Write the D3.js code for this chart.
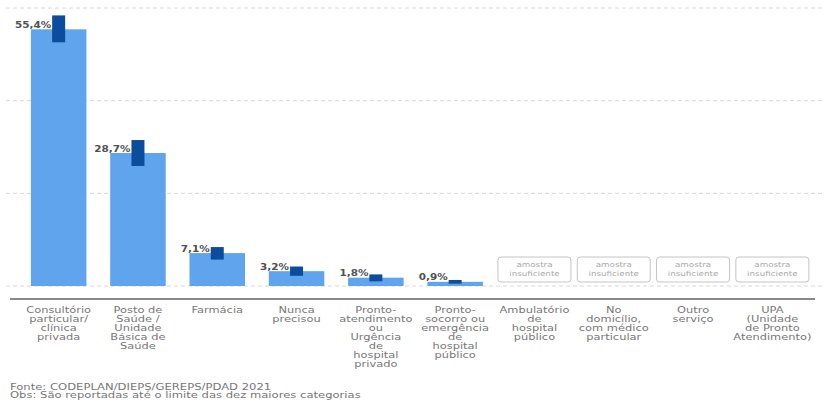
<!DOCTYPE html>
<html><head><meta charset="utf-8">
<script src="https://cdn.jsdelivr.net/npm/d3@7"></script>
<style>body{margin:0;background:#fff}svg{display:block}</style>
</head><body>
<svg id="c" width="824" height="403"></svg>
<script>
const categories = [
  ["Consultório","particular/","clínica","privada"],
  ["Posto de","Saúde /","Unidade","Básica de","Saúde"],
  ["Farmácia"],
  ["Nunca","precisou"],
  ["Pronto-","atendimento","ou","Urgência","de","hospital","privado"],
  ["Pronto-","socorro ou","emergência","de","hospital","público"],
  ["Ambulatório","de","hospital","público"],
  ["No","domicílio,","com médico","particular"],
  ["Outro","serviço"],
  ["UPA","(Unidade","de Pronto","Atendimento)"]
];
const values = [55.4, 28.7, 7.1, 3.2, 1.8, 0.9, null, null, null, null];
const ciLow  = [52.6, 25.9, 5.7, 2.2, 1.0, 0.5, null, null, null, null];
const ciHigh = [58.4, 31.5, 8.4, 4.2, 2.5, 1.3, null, null, null, null];
const valueLabels = ["55,4%","28,7%","7,1%","3,2%","1,8%","0,9%"];
const gridTicks = [0, 20, 40, 60];
const insufficientText = ["amostra","insuficiente"];
const footer = ["Fonte: CODEPLAN/DIEPS/GEREPS/PDAD 2021","Obs: São reportadas até o limite das dez maiores categorias"];

const svg = d3.select("#c");
const font = "DejaVu Sans, sans-serif";
const idx = d3.range(categories.length);
const x = d3.scaleBand().domain(idx).range([19, 812]).paddingInner(0.3).paddingOuter(0.15);
const y = d3.scaleLinear().domain([0, 60]).range([286, 8]);

// grid
svg.append("g").selectAll("line").data(gridTicks).join("line")
  .attr("x1", 6).attr("x2", 822)
  .attr("y1", d => y(d)).attr("y2", d => y(d))
  .attr("stroke", "#d8d8d8").attr("stroke-width", 1).attr("stroke-dasharray", "4,3");

const data = idx.map(i => ({i, v: values[i], lo: ciLow[i], hi: ciHigh[i], lab: valueLabels[i]}));
const withVal = data.filter(d => d.v != null);
const noVal = data.filter(d => d.v == null);

// bars
svg.append("g").selectAll("rect").data(withVal).join("rect")
  .attr("x", d => x(d.i)).attr("width", x.bandwidth())
  .attr("y", d => y(d.v)).attr("height", d => y(0) - y(d.v))
  .attr("fill", "#5fa4ec");

// CI
const ew = 13;
svg.append("g").selectAll("rect").data(withVal).join("rect")
  .attr("x", d => x(d.i) + x.bandwidth()/2 - ew/2).attr("width", ew)
  .attr("y", d => y(d.hi)).attr("height", d => y(d.lo) - y(d.hi))
  .attr("fill", "#0b4c9c");

// value labels
svg.append("g").selectAll("text").data(withVal).join("text")
  .attr("transform", d => `translate(${x(d.i) + x.bandwidth()/2 - ew/2 - 1},${y(d.v) - 1.5}) scale(1.1,1)`)
  .attr("text-anchor", "end")
  .attr("font-family", font).attr("font-size", 9.5).attr("font-weight", "bold")
  .attr("fill", "#505050")
  .text(d => d.lab);

// insufficient boxes
const bw = 73;
const ib = svg.append("g").selectAll("g").data(noVal).join("g")
  .attr("transform", d => `translate(${x(d.i) + x.bandwidth()/2},0)`);
ib.append("rect").attr("x", -bw/2).attr("width", bw).attr("y", 257).attr("height", 25)
  .attr("rx", 3).attr("fill", "#fff").attr("stroke", "#c4c4c4").attr("stroke-width", 1);
ib.selectAll("text").data(insufficientText).join("text")
  .attr("transform", (d, k) => `translate(0,${267 + k * 9}) scale(1.25,1)`)
  .attr("text-anchor", "middle").attr("font-family", font).attr("font-size", 7)
  .attr("fill", "#a8a8a8").text(d => d);

// axis line
svg.append("line").attr("x1", 10).attr("x2", 815).attr("y1", 299).attr("y2", 299)
  .attr("stroke", "#8a8a8a").attr("stroke-width", 2);

// category labels
const cl = svg.append("g").selectAll("g").data(data).join("g")
  .attr("transform", d => `translate(${x(d.i) + x.bandwidth()/2},0)`);
cl.selectAll("text").data(d => categories[d.i]).join("text")
  .attr("transform", (d, k) => `translate(0,${313 + k * 9}) scale(1.33,1)`)
  .attr("text-anchor", "middle").attr("font-family", font).attr("font-size", 8.6)
  .attr("fill", "#777").text(d => d);

// footer
svg.append("g").selectAll("text").data(footer).join("text")
  .attr("transform", (d, k) => `translate(10,${390 + k * 8}) scale(1.45,1)`)
  .attr("font-family", font).attr("font-size", 8).attr("fill", "#777")
  .text(d => d);
</script>
</body></html>
